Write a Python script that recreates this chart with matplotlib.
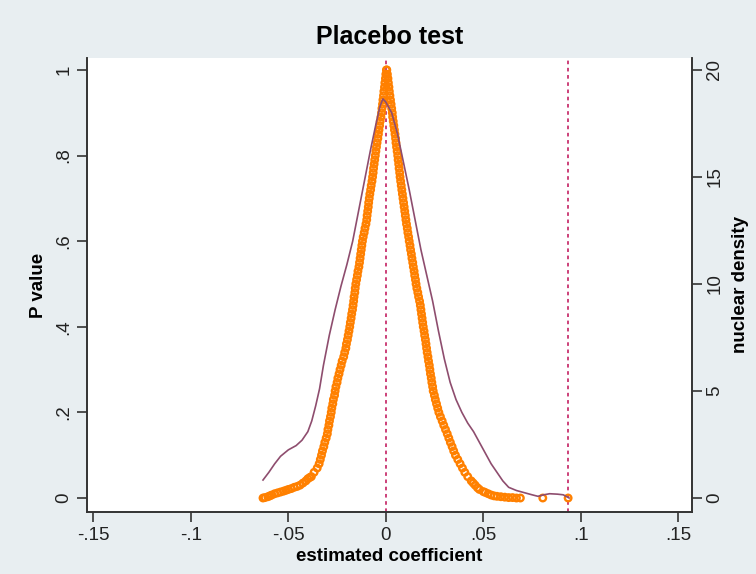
import numpy as np
import matplotlib.pyplot as plt

plt.rcParams['font.family'] = ['Liberation Sans', 'DejaVu Sans']

# p-value levels shared by both branches of the tent
p_levels = [0.00, 0.01, 0.02, 0.03, 0.04, 0.05, 0.06, 0.07, 0.08, 0.09,
            0.10, 0.11, 0.12, 0.13, 0.14, 0.15, 0.16, 0.17, 0.18, 0.19,
            0.20, 0.21, 0.22, 0.23, 0.24, 0.25, 0.26, 0.27, 0.28, 0.29,
            0.30, 0.31, 0.32, 0.33, 0.34, 0.35, 0.36, 0.37, 0.38, 0.39,
            0.40, 0.41, 0.42, 0.43, 0.44, 0.45, 0.46, 0.47, 0.48, 0.49,
            0.50, 0.51, 0.52, 0.53, 0.54, 0.55, 0.56, 0.57, 0.58, 0.59,
            0.60, 0.61, 0.62, 0.63, 0.64, 0.65, 0.66, 0.67, 0.68, 0.69,
            0.70, 0.71, 0.72, 0.73, 0.74, 0.75, 0.76, 0.77, 0.78, 0.79,
            0.80, 0.81, 0.82, 0.83, 0.84, 0.85, 0.86, 0.87, 0.88, 0.89,
            0.90, 0.91, 0.92, 0.93, 0.94, 0.95, 0.96, 0.97, 0.98, 0.99, 1.00]

coef_left = [-0.0630, -0.0570, -0.0500, -0.0440, -0.0410, -0.0382, -0.0368, -0.0352, -0.0342, -0.0336,
             -0.0330, -0.0325, -0.0318, -0.0313, -0.0306, -0.0300, -0.0297, -0.0292, -0.0289, -0.0284,
             -0.0280, -0.0277, -0.0272, -0.0269, -0.0263, -0.0260, -0.0256, -0.0250, -0.0246, -0.0240,
             -0.0235, -0.0229, -0.0224, -0.0216, -0.0211, -0.0205, -0.0202, -0.0197, -0.0193, -0.0189,
             -0.0185, -0.0182, -0.0178, -0.0175, -0.0171, -0.0168, -0.0165, -0.0163, -0.0159, -0.0157,
             -0.0154, -0.0150, -0.0146, -0.0143, -0.0138, -0.0135, -0.0132, -0.0129, -0.0126, -0.0123,
             -0.0120, -0.0116, -0.0111, -0.0107, -0.0102, -0.0098, -0.0096, -0.0093, -0.0090, -0.0088,
             -0.0085, -0.0082, -0.0078, -0.0075, -0.0071, -0.0068, -0.0065, -0.0063, -0.0060, -0.0057,
             -0.0054, -0.0051, -0.0048, -0.0045, -0.0041, -0.0038, -0.0035, -0.0032, -0.0029, -0.0025,
             -0.0022, -0.0020, -0.0017, -0.0015, -0.0012, -0.0010, -0.0007, -0.0005, -0.0002, 0.0000, 0.0003]

coef_right = [0.0670, 0.0525, 0.0480, 0.0458, 0.0438, 0.0420, 0.0405, 0.0393, 0.0381, 0.0369,
              0.0357, 0.0348, 0.0340, 0.0331, 0.0323, 0.0315, 0.0306, 0.0297, 0.0289, 0.0280,
              0.0272, 0.0266, 0.0260, 0.0254, 0.0249, 0.0243, 0.0240, 0.0236, 0.0233, 0.0229,
              0.0226, 0.0223, 0.0219, 0.0216, 0.0212, 0.0209, 0.0206, 0.0203, 0.0199, 0.0196,
              0.0192, 0.0189, 0.0186, 0.0183, 0.0180, 0.0177, 0.0173, 0.0168, 0.0164, 0.0159,
              0.0155, 0.0152, 0.0148, 0.0145, 0.0141, 0.0138, 0.0134, 0.0131, 0.0127, 0.0124,
              0.0120, 0.0117, 0.0113, 0.0110, 0.0106, 0.0103, 0.0100, 0.0097, 0.0094, 0.0091,
              0.0088, 0.0085, 0.0082, 0.0079, 0.0076, 0.0073, 0.0071, 0.0068, 0.0066, 0.0063,
              0.0061, 0.0058, 0.0055, 0.0052, 0.0050, 0.0047, 0.0044, 0.0041, 0.0038, 0.0035,
              0.0033, 0.0030, 0.0027, 0.0024, 0.0021, 0.0018, 0.0016, 0.0013, 0.0011, 0.0008, 0.0005]

# extra points in the flat tails
tail_coef = [-0.0620, -0.0605, -0.0595, -0.0585, -0.0555, -0.0540, -0.0525, -0.0512,
             -0.0485, -0.0470, -0.0455, -0.0425, -0.0400, -0.0390,
             0.0448, 0.0470, 0.0500, 0.0510, 0.0540, 0.0555, 0.0570, 0.0590,
             0.0610, 0.0630, 0.0650, 0.0690, 0.0805, 0.0935]
tail_p = [0.001, 0.003, 0.005, 0.007, 0.012, 0.014, 0.016, 0.018,
          0.022, 0.025, 0.027, 0.035, 0.045, 0.048,
          0.035, 0.024, 0.015, 0.013, 0.007, 0.005, 0.004, 0.003,
          0.002, 0.001, 0.001, 0.000, 0.000, 0.000]

# kernel density of the estimated coefficients (right axis)
kd_x = [-0.063, -0.060, -0.057, -0.054, -0.050, -0.046, -0.043, -0.040, -0.038, -0.036,
        -0.034, -0.032, -0.029, -0.026, -0.023, -0.020, -0.017, -0.014, -0.011, -0.008,
        -0.005, -0.003, -0.0015, 0.000, 0.003, 0.006, 0.009, 0.012, 0.015, 0.018,
        0.021, 0.024, 0.027, 0.030, 0.033, 0.036, 0.039, 0.042, 0.045, 0.048,
        0.051, 0.054, 0.057, 0.060, 0.063, 0.067, 0.071, 0.075, 0.078, 0.081,
        0.084, 0.088, 0.091, 0.094]
kd_y = [0.84, 1.2, 1.6, 1.95, 2.25, 2.45, 2.7, 3.1, 3.6, 4.3,
        5.1, 6.2, 7.6, 8.8, 9.9, 10.9, 12.0, 13.4, 14.8, 16.2,
        17.5, 18.3, 18.65, 18.5, 18.0, 17.0, 15.7, 14.4, 13.0, 11.6,
        10.4, 9.2, 7.8, 6.5, 5.4, 4.6, 4.0, 3.5, 3.1, 2.6,
        2.1, 1.6, 1.2, 0.8, 0.5, 0.35, 0.25, 0.15, 0.08, 0.15,
        0.2, 0.18, 0.15, 0.0]

true_coef = 0.0935
x_ticks = [-0.15, -0.1, -0.05, 0, 0.05, 0.1, 0.15]
x_labels = ['-.15', '-.1', '-.05', '0', '.05', '.1', '.15']
p_ticks = [0, 0.2, 0.4, 0.6, 0.8, 1]
p_labels = ['0', '.2', '.4', '.6', '.8', '1']
d_ticks = [0, 5, 10, 15, 20]

bg = '#e8eef1'
orange = '#ff8000'
fig = plt.figure(figsize=(7.56, 5.74), dpi=100, facecolor=bg)
ax = fig.add_axes([0.115, 0.108, 0.800, 0.791])
ax.set_facecolor('white')
ax2 = ax.twinx()

ax.axvline(0, color='#c8326e', lw=1.3, ls=(0, (2, 2)), zorder=1)
ax.axvline(true_coef, color='#c8326e', lw=1.3, ls=(0, (2, 2)), zorder=1)

for xs, ys in [(coef_left, p_levels), (coef_right, p_levels), (tail_coef, tail_p)]:
    ax.scatter(xs, ys, s=22, facecolors='none', edgecolors=orange, linewidths=1.7, zorder=3)

ax2.plot(kd_x, kd_y, color='#8e4d6e', lw=1.2, zorder=2)

ax.set_xlim(-0.1533, 0.1569)
ax.set_ylim(-0.0327, 1.028)
ax2.set_ylim(-0.654, 20.56)

ax.set_xticks(x_ticks)
ax.set_xticklabels(x_labels)
ax.set_yticks(p_ticks)
ax.set_yticklabels(p_labels, rotation=90, va='center')
ax2.set_yticks(d_ticks)
ax2.set_yticklabels([str(t) for t in d_ticks], rotation=90, va='center')

for a in (ax, ax2):
    a.spines['top'].set_visible(False)
    for s in ('left', 'right', 'bottom'):
        a.spines[s].set_color('#333333')
        a.spines[s].set_linewidth(1.2)
    a.tick_params(labelsize=13.5, length=7, width=1.2, color='#333333', labelcolor='#222222')

ax.set_xlabel('estimated coefficient', fontsize=13.5, fontweight='bold', labelpad=3)
ax.set_ylabel('P value', fontsize=13.5, fontweight='bold', labelpad=6)
ax2.set_ylabel('nuclear density', fontsize=13.5, fontweight='bold', labelpad=6)
fig.text(0.515, 0.935, 'Placebo test', ha='center', va='center', fontsize=18, fontweight='bold')

fig.savefig('out.png', dpi=100, facecolor=bg)
